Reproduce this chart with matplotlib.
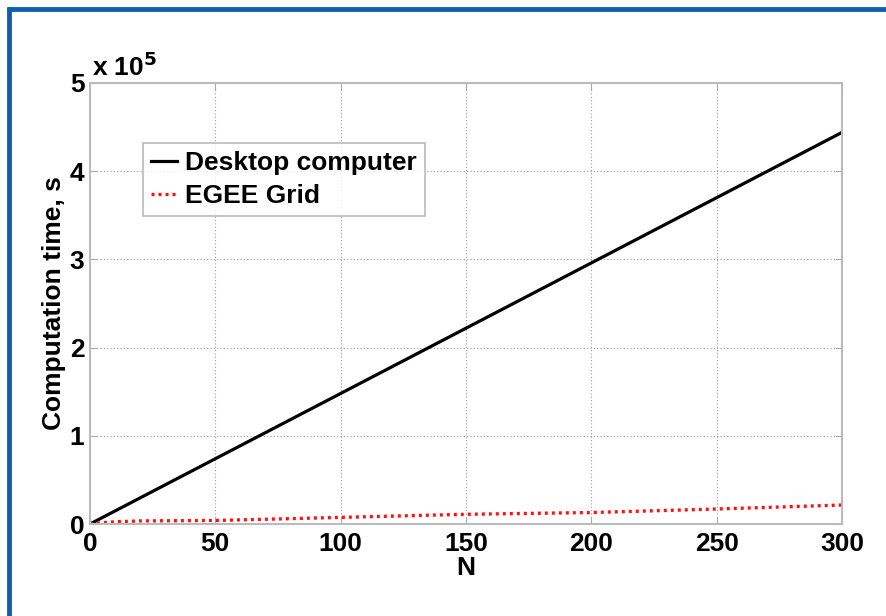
import matplotlib
matplotlib.use("Agg")
import matplotlib.pyplot as plt
from matplotlib.lines import Line2D
from matplotlib.ticker import FuncFormatter

plt.rcParams['font.family'] = ['Liberation Sans', 'DejaVu Sans']
plt.rcParams['font.weight'] = 'bold'

n_desktop = [0, 50, 100, 150, 200, 250, 300]
t_desktop = [0, 74000, 148000, 222000, 296000, 370000, 444000]

n_grid = [0, 5, 10, 20, 50, 100, 150, 200, 250, 300]
t_grid = [0, 1500, 2500, 3500, 4000, 7500, 11000, 13000, 17000, 21500]

x_ticks = [0, 50, 100, 150, 200, 250, 300]
y_ticks = [0, 100000, 200000, 300000, 400000, 500000]

fig = plt.figure(figsize=(8.86, 6.16), dpi=100)
ax = fig.add_axes([90/886, 1-524/616, (842-90)/886, (524-83)/616])

ax.plot(n_desktop, t_desktop, color='black', lw=2.3, label='Desktop computer')
ax.plot(n_grid, t_grid, color='#ff1010', lw=2.4, linestyle=(0, (0.9, 1.2)),
        dash_capstyle='butt', label='EGEE Grid')

ax.set_xlim(0, 300)
ax.set_ylim(0, 500000)
ax.set_xticks(x_ticks)
ax.set_yticks(y_ticks)
ax.yaxis.set_major_formatter(FuncFormatter(lambda v, p: f'{v/1e5:g}'))
ax.grid(True, color='#999999', linestyle=(0, (1, 2)), lw=0.8)
for s in ax.spines.values():
    s.set_color('#bbbbbb')
    s.set_linewidth(1.5)
ax.tick_params(direction='in', length=5, color='#aaaaaa', labelsize=19, pad=4,
               top=True, right=True)
ax.tick_params(axis='x', pad=6)
for lbl in ax.get_xticklabels() + ax.get_yticklabels():
    lbl.set_fontweight('bold')

ax.set_xlabel('N', fontsize=19, fontweight='bold', labelpad=0)
ax.set_ylabel('Computation time, s', fontsize=19, fontweight='bold', labelpad=3)
ax.text(0.003, 1.005, r'x 10$^{5}$', transform=ax.transAxes, fontsize=19,
        fontweight='bold', ha='left', va='bottom')

leg = ax.legend(loc='upper left', bbox_to_anchor=(53/752, (524-143)/441),
                fontsize=19, frameon=True, fancybox=False, handlelength=1.0,
                handletextpad=0.3, borderpad=0.3, labelspacing=0.35,
                borderaxespad=0)
leg.get_frame().set_edgecolor('#aaaaaa')
leg.get_frame().set_linewidth(1.2)
for t in leg.get_texts():
    t.set_fontweight('bold')

blue = '#1060b0'
fig.add_artist(Line2D([6.5/886, 1], [1-9/616, 1-9/616], color=blue, lw=3.5,
                      transform=fig.transFigure, solid_capstyle='butt'))
fig.add_artist(Line2D([8.5/886, 8.5/886], [0, 1-7/616], color=blue, lw=3.5,
                      transform=fig.transFigure, solid_capstyle='butt'))

fig.savefig('out.png', dpi=100)
